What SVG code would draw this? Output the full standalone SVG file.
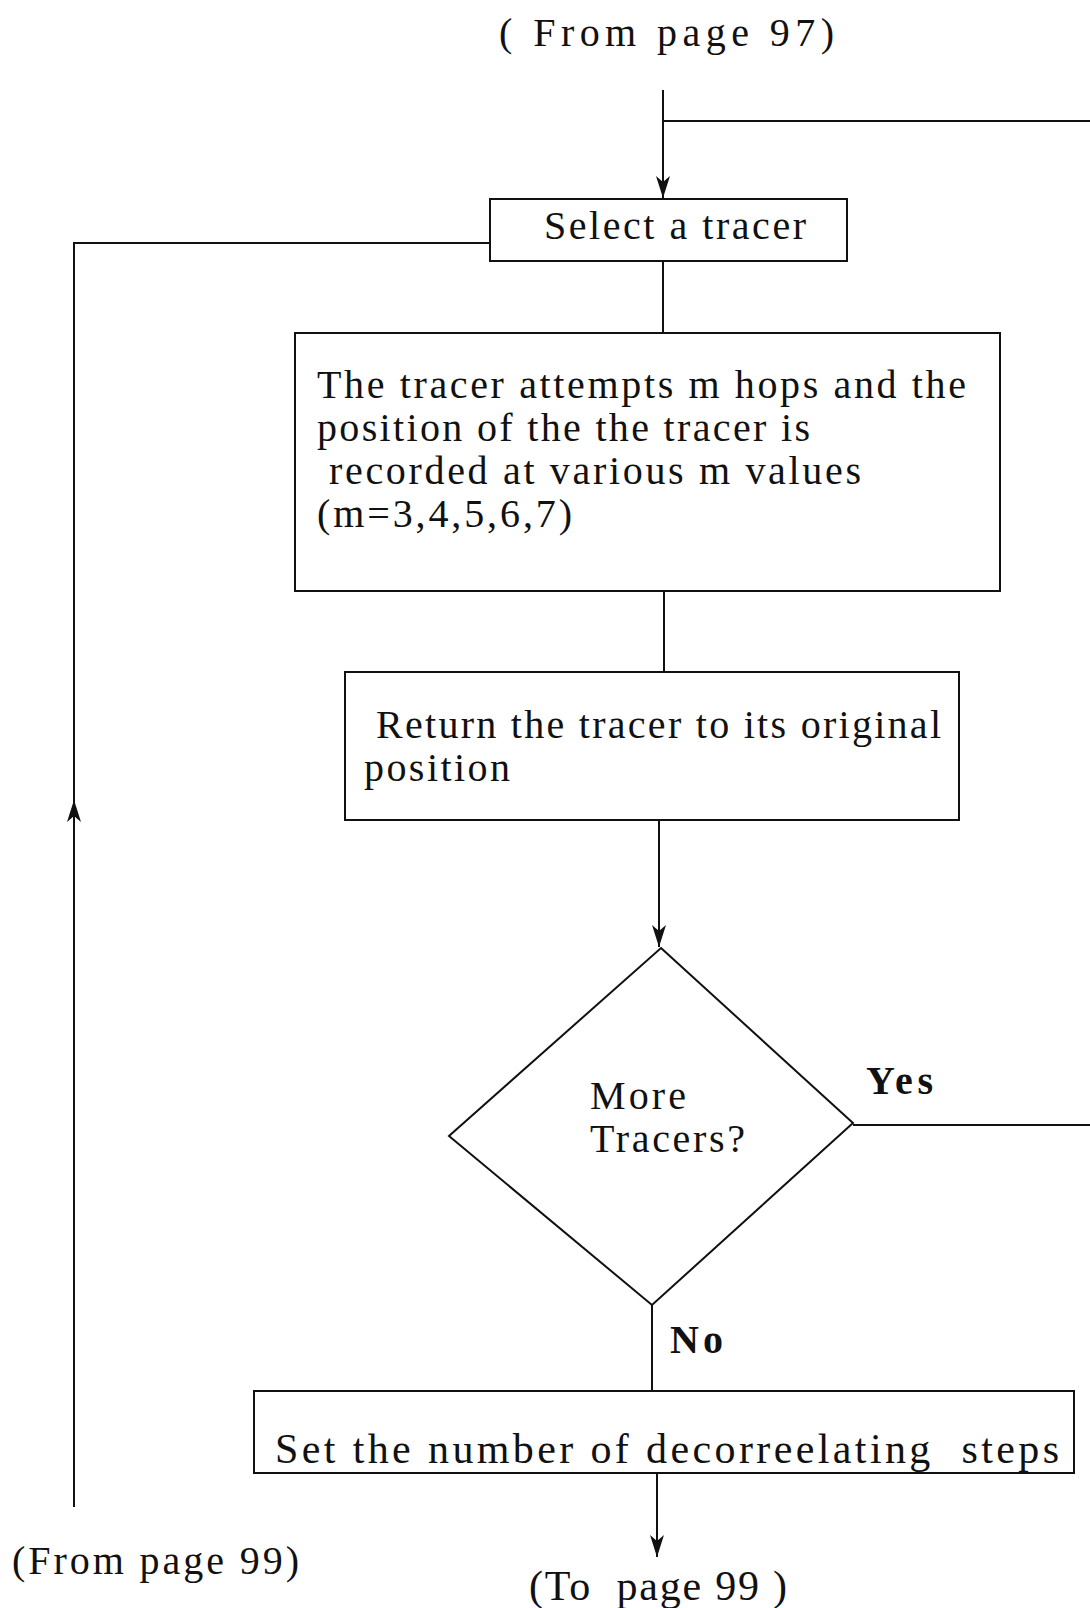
<svg xmlns="http://www.w3.org/2000/svg" width="1090" height="1608" viewBox="0 0 1090 1608">
  <style>
    .box { fill: #ffffff; stroke: #111111; stroke-width: 2; }
    .wire { fill: none; stroke: #111111; stroke-width: 2; }
    .t { font-family: "Liberation Serif", "Times New Roman", serif; font-size: 40px; fill: #111111; }
    .tl { font-family: "Liberation Serif", "Times New Roman", serif; font-size: 42px; fill: #111111; }
    .b { font-family: "Liberation Serif", "Times New Roman", serif; font-size: 40px; font-weight: bold; fill: #111111; }
  </style>
  <defs>
    <!-- narrow filled arrowhead with a shallow notch, pointing along the path -->
    <marker id="arrow" viewBox="0 0 22 14" refX="22" refY="7" markerWidth="22" markerHeight="14" markerUnits="userSpaceOnUse" orient="auto">
      <path d="M0,0 L22,7 L0,14 L6,7 Z" fill="#111111"/>
    </marker>
  </defs>
  <rect width="1090" height="1608" fill="#ffffff"/>

  <!-- page references -->
  <g id="from-97">
    <text class="t" x="499" y="46" textLength="335" lengthAdjust="spacing" xml:space="preserve">( From page 97)</text>
  </g>
  <g id="from-99">
    <text class="t" x="12" y="1574" textLength="287" lengthAdjust="spacing">(From page 99)</text>
  </g>
  <g id="to-99">
    <text class="tl" x="529" y="1600" textLength="258" lengthAdjust="spacing" xml:space="preserve">(To  page 99 )</text>
  </g>

  <!-- connectors -->
  <g id="connectors">
    <line class="wire" x1="663" y1="90" x2="663" y2="198" marker-end="url(#arrow)"/>
    <line class="wire" x1="663" y1="121" x2="1090" y2="121"/>
    <line class="wire" x1="663" y1="261" x2="663" y2="333"/>
    <line class="wire" x1="664" y1="591" x2="664" y2="672"/>
    <line class="wire" x1="659" y1="820" x2="659" y2="947" marker-end="url(#arrow)"/>
    <line class="wire" x1="853" y1="1125" x2="1090" y2="1125"/>
    <line class="wire" x1="652" y1="1305" x2="652" y2="1391"/>
    <line class="wire" x1="657" y1="1473" x2="657" y2="1557" marker-end="url(#arrow)"/>
    <line class="wire" x1="74" y1="1507" x2="74" y2="800" marker-end="url(#arrow)"/>
    <polyline class="wire" points="74,803 74,243 490,243"/>
  </g>

  <g id="select-tracer">
    <rect class="box" x="490" y="199" width="357" height="62"/>
    <text class="t" x="544" y="239" textLength="262" lengthAdjust="spacing">Select a tracer</text>
  </g>

  <g id="attempt-hops">
    <rect class="box" x="295" y="333" width="705" height="258"/>
    <text class="t" x="317" y="398" textLength="649" lengthAdjust="spacing">The tracer attempts m hops and the</text>
    <text class="t" x="317" y="441" textLength="493" lengthAdjust="spacing">position of the the tracer is</text>
    <text class="t" x="329" y="484" textLength="532" lengthAdjust="spacing">recorded at various m values</text>
    <text class="t" x="317" y="527" textLength="255" lengthAdjust="spacing">(m=3,4,5,6,7)</text>
  </g>

  <g id="return-tracer">
    <rect class="box" x="345" y="672" width="614" height="148"/>
    <text class="t" x="376" y="738" textLength="565" lengthAdjust="spacing">Return the tracer to its original</text>
    <text class="t" x="364" y="781" textLength="146" lengthAdjust="spacing">position</text>
  </g>

  <g id="more-tracers">
    <polygon class="box" points="661,948 853,1123 652,1305 449,1136"/>
    <text class="t" x="590" y="1109" textLength="96" lengthAdjust="spacing">More</text>
    <text class="t" x="590" y="1152" textLength="155" lengthAdjust="spacing">Tracers?</text>
    <text class="b" x="866" y="1094" textLength="67" lengthAdjust="spacing">Yes</text>
    <text class="b" x="670" y="1353" textLength="53" lengthAdjust="spacing">No</text>
  </g>

  <g id="set-steps">
    <rect class="box" x="254" y="1391" width="820" height="82"/>
    <text class="tl" x="275" y="1463" textLength="784" lengthAdjust="spacing" xml:space="preserve">Set the number of decorreelating  steps</text>
  </g>
</svg>
